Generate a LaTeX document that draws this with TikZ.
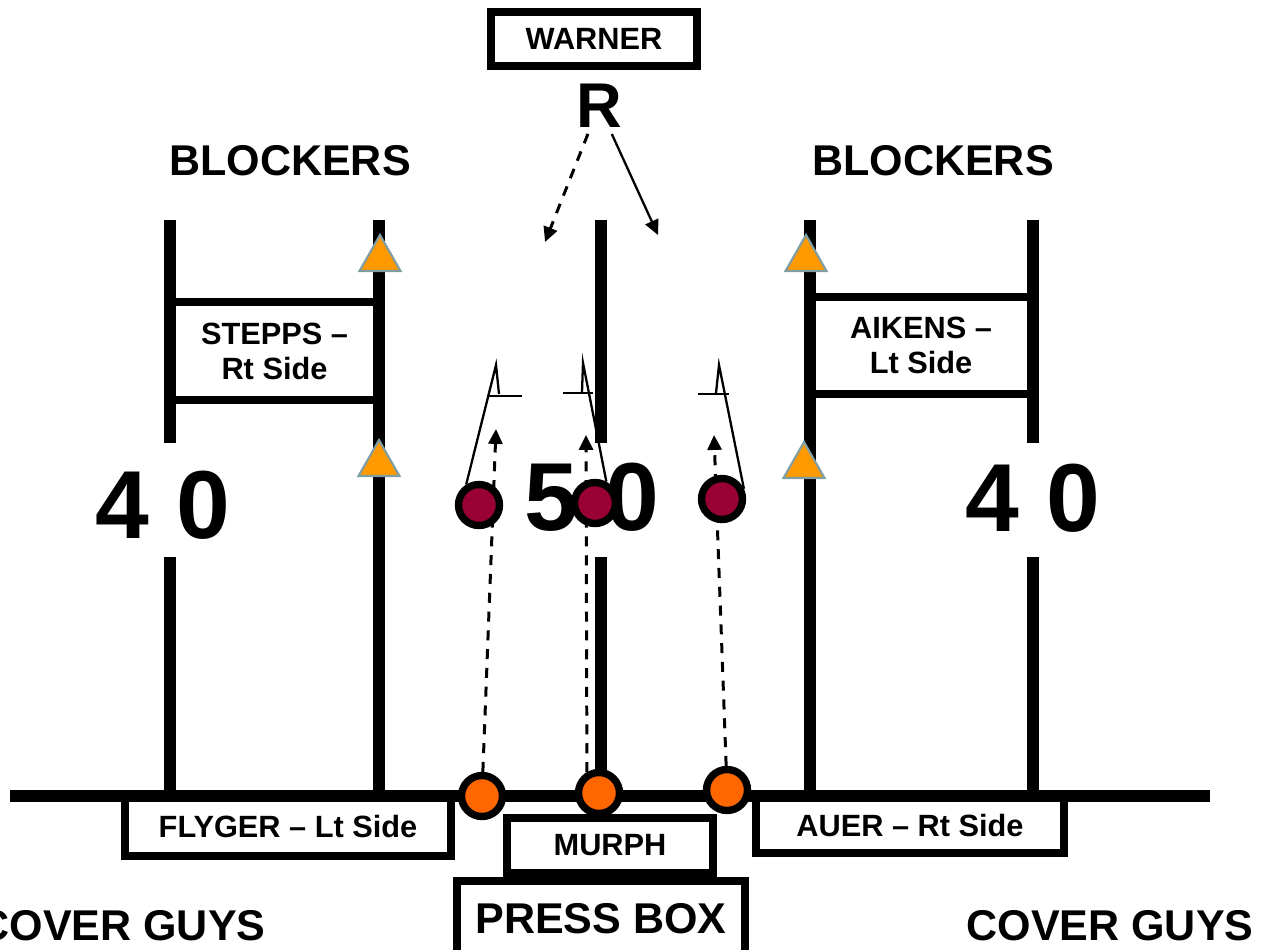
\documentclass[tikz,border=0pt]{standalone}
\usepackage{fontspec}
\setmainfont{Liberation Sans}
\usetikzlibrary{arrows.meta,calc,positioning}
\definecolor{jersey}{RGB}{153,0,51}
\definecolor{coverorange}{RGB}{255,102,0}
\definecolor{pylonfill}{RGB}{255,153,0}
\definecolor{pylonedge}{RGB}{126,158,164}

\begin{document}
\begin{tikzpicture}[x=0.02cm,y=-0.02cm,>={Triangle[length=8.5pt,width=8pt]},
  every node/.style={font=\bfseries},
  yardline/.style={line width=6.3pt},
  namebox/.style={draw,line width=4.5pt,align=center,inner sep=0pt,
    font=\bfseries\fontsize{17.5}{20}\selectfont},
  bigtext/.style={font=\bfseries\fontsize{24.5}{28}\selectfont},
  yardnum/.style={font=\bfseries\fontsize{55}{60}\selectfont},
  player/.style={circle,draw,line width=4.2pt,minimum size=0.82cm,inner sep=0pt},
  pylon/.style={fill=pylonfill,draw=pylonedge,line width=1.2pt},
  route/.style={line width=1.3pt},
  rush/.style={line width=1.7pt,dash pattern=on 5.7pt off 5pt,->}]
  \useasboundingbox (0,0) rectangle (1263,949);
  \clip (0,0) rectangle (1263,949);

  % yard lines and sideline
  \foreach \x in {170,601,1033}{
    \draw[yardline] (\x,220) -- (\x,443);
    \draw[yardline] (\x,557) -- (\x,796);
  }
  \foreach \x in {379,810}
    \draw[yardline] (\x,220) -- (\x,796);
  \draw[yardline] (10,796) -- (1210,796);

  % pylons
  \foreach \x/\y in {380/235,379/440,806/235,804/442}
    \filldraw[pylon] (\x,\y) -- ++(20.5,36) -- ++(-41,0) -- cycle;

  % name boxes
  \node[namebox,minimum width=4.18cm,minimum height=1.96cm] (stepps) at (274.5,351) {STEPPS \textendash\\Rt Side};
  \node[namebox,minimum width=4.48cm,minimum height=1.94cm] (aikens) at (921,345.5) {AIKENS \textendash\\Lt Side};
  \node[namebox,minimum width=4.12cm,minimum height=1.08cm] (warner) at (594,39) {WARNER};
  \node[namebox,minimum width=6.52cm,minimum height=1.16cm] (flyger) at (288,827) {FLYGER \textendash{} Lt Side};
  \node[namebox,minimum width=6.16cm,minimum height=1.1cm] (auer) at (910,825.5) {AUER \textendash{} Rt Side};
  \node[namebox,minimum width=4.12cm,minimum height=1.1cm] (murph) at (610,845.5) {MURPH};
  \node[namebox,bigtext,minimum width=5.76cm,minimum height=1.52cm] (pressbox) at (601,919) {PRESS BOX};

  % titles and yard numbers
  \node[bigtext] (blockL) at (290,161) {BLOCKERS};
  \node[bigtext] (blockR) at (933,161) {BLOCKERS};
  \node[bigtext] (coverL) at (122,926) {COVER GUYS};
  \node[bigtext] (coverR) at (1110,926) {COVER GUYS};
  \node[yardnum] (num40L) at (163,505) {4 0};
  \node[yardnum] (num50) at (592,497) {5 0};
  \node[yardnum] (num40R) at (1033,498) {4 0};
  \node[font=\bfseries\fontsize{36}{40}\selectfont] (ret) at (599,106) {R};

  % cover men on the sideline
  \node[player,fill=coverorange] (orng1) at (482,796) {};
  \node[player,fill=coverorange] (orng2) at (599,793) {};
  \node[player,fill=coverorange] (orng3) at (727,790) {};

  \coordinate (tip1) at (496,429);
  \coordinate (tip2) at (586,435);
  \coordinate (tip3) at (714,435);
  \draw[rush] (orng1.88) -- (tip1);
  \draw[rush] (orng2.120) -- (tip2);
  \draw[rush] (orng3.92) -- (tip3);

  % returner drops
  \coordinate (dropL) at (545,242);
  \coordinate (dropR) at (658,235);
  \draw[rush] (ret) -- (dropL);
  \draw[route,->] (ret) -- (dropR);

  % front men and their routes
  \node[player,fill=jersey] (red1) at (479,505) {};
  \node[player,fill=jersey] (red2) at (595,503) {};
  \node[player,fill=jersey] (red3) at (722,499) {};

  \coordinate (apex1) at (496,365);
  \coordinate (stem1) at (499,394);
  \coordinate (apex2) at (583,363);
  \coordinate (stem2) at (582,392);
  \coordinate (apex3) at (719,365);
  \coordinate (stem3) at (716,393);
  \draw[route] (red1.122) -- (apex1) -- (stem1);
  \draw[route] (red2.62) -- (apex2) -- (stem2);
  \draw[route] (red3.25) -- (apex3) -- (stem3);
  \draw[route] (489,396) -- (522,396);
  \draw[route] (563,393) -- (593,393);
  \draw[route] (698,394) -- (729,394);
\end{tikzpicture}
\end{document}
